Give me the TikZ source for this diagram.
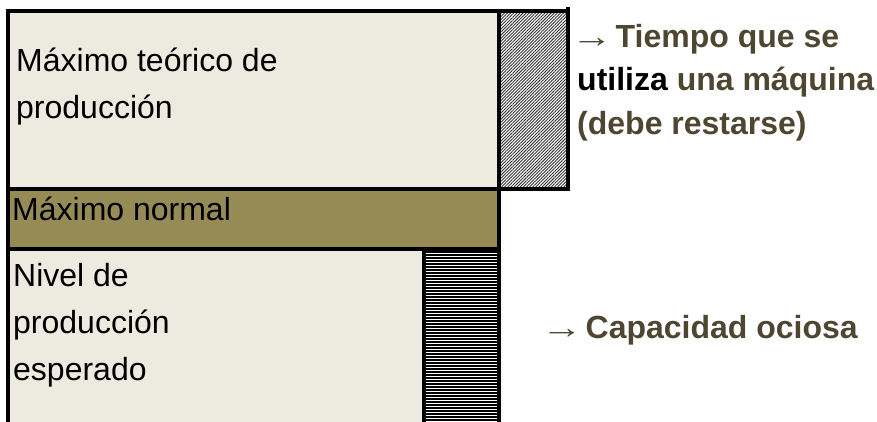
\documentclass[tikz,border=0pt]{standalone}
\usepackage{fontspec}
\setmainfont{Liberation Sans}
\usetikzlibrary{patterns.meta}
\definecolor{beige}{HTML}{EDEAE0}
\definecolor{oliva}{HTML}{968B55}
\definecolor{texto}{HTML}{4E4630}
\newcommand{\flecha}{{\mdseries\kern-6pt\scalebox{1.3}[1]{→}\kern-6pt}}

\begin{document}
\begin{tikzpicture}[x=1pt,y=-1pt,
    caja/.style={draw=black,line width=4pt},
    txt/.style={anchor=base west,inner sep=0pt,align=left,font=\fontsize{32}{47}\selectfont},
    nota/.style={anchor=base west,inner sep=0pt,align=left,text=texto,font=\fontsize{32}{43.5}\selectfont\bfseries}]
      \useasboundingbox (0,0) rectangle (877,421);
      % bloques
      \fill[beige] (7.5,11) rectangle (499,188.5);
      \fill[oliva] (7.5,188.5) rectangle (499,249);
      \fill[beige] (7.5,249) rectangle (424,440);
      \fill[white] (499,11) rectangle (568,189);
      \fill[pattern={Lines[angle=45,distance=2.2pt,line width=0.9pt]},pattern color=black!80] (499,11) rectangle (568,189);
      \fill[white] (424,249) rectangle (499,440);
      \foreach \y in {252,255,...,423}
        \draw[line width=1.3pt] (424,\y) -- (499,\y);
      \draw[caja] (7.5,11) rectangle (499,188.5);
      \draw[caja] (499,11) rectangle (568,189);
      \draw[caja] (568,7) -- (568,11);
      \draw[caja] (7.5,188.5) rectangle (499,249);
      \draw[caja] (7.5,249) rectangle (424,440);
      \draw[caja] (424,249) rectangle (499,440);
      % textos (base = ultima linea)
      \node[txt] (teorico) at (16,118) {Máximo teórico de\\producción};
      \node[txt] (normal) at (12,220) {Máximo normal};
      \node[txt] (nivel) at (13,380) {Nivel de\\producción\\esperado};
      \node[nota] (tiempo) at (577,134) {\flecha{} Tiempo que se\\\textcolor{black}{utiliza} una máquina\\(debe restarse)};
      \node[nota] (ociosa) at (547,338) {\flecha{} Capacidad ociosa};
\end{tikzpicture}
\end{document}
